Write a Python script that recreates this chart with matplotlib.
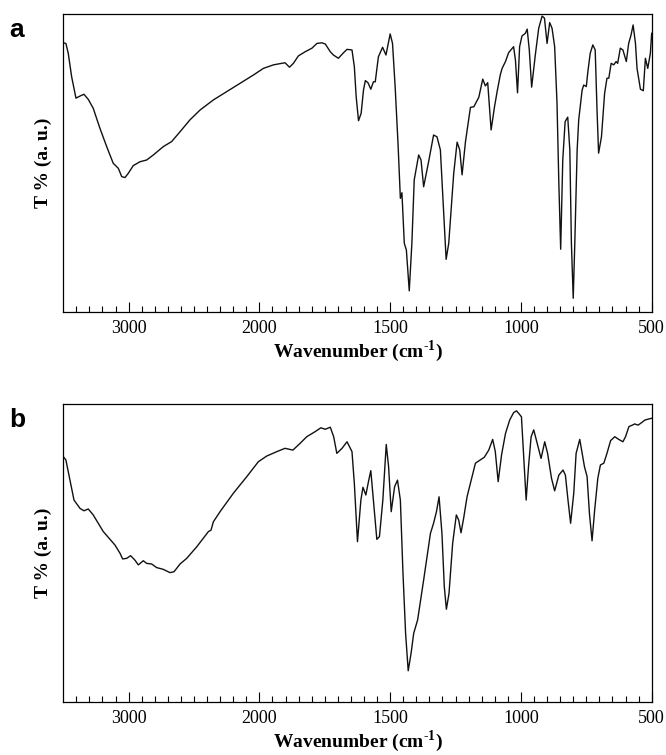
import numpy as np
import matplotlib
matplotlib.use('Agg')
import matplotlib.pyplot as plt

plt.rcParams['font.family'] = ['Liberation Serif', 'DejaVu Serif']
plt.rcParams['mathtext.fontset'] = 'custom'
plt.rcParams['mathtext.rm'] = 'Liberation Serif'
plt.rcParams['mathtext.bf'] = 'Liberation Serif:bold'

# spectrum a: wavenumber (cm-1) and transmittance (a.u., 0-100)
wn_a = [3500, 3480, 3462, 3436, 3403, 3372, 3342, 3309, 3271, 3220, 3168, 3118, 3079, 3053,
        3028, 3003, 2965, 2914, 2862, 2811, 2735, 2671, 2607, 2531, 2454, 2352, 2250, 2148,
        2045, 1985, 1946, 1914, 1902, 1885, 1870, 1851, 1825, 1799, 1780, 1761, 1748, 1729,
        1717, 1698, 1678, 1665, 1646, 1637, 1630, 1621, 1611, 1602, 1595, 1585, 1574, 1564,
        1557, 1545, 1529, 1516, 1500, 1491, 1481, 1470, 1461, 1455, 1446, 1438, 1427, 1417,
        1408, 1391, 1382, 1372, 1353, 1334, 1321, 1308, 1296, 1286, 1276, 1257, 1244, 1234,
        1225, 1212, 1193, 1180, 1161, 1146, 1136, 1127, 1114, 1101, 1091, 1079, 1072, 1059,
        1047, 1028, 1021, 1013, 1005, 996, 983, 976, 968, 959, 945, 932, 919, 910, 900, 890,
        881, 871, 862, 855, 848, 840, 831, 821, 813, 807, 800, 794, 785, 779, 766, 760, 750,
        744, 735, 725, 716, 709, 703, 692, 680, 671, 664, 655, 645, 636, 630, 620, 610, 597,
        588, 579, 571, 562, 556, 543, 532, 524, 515, 505, 500]
t_a = [90.4, 90.2, 86.9, 79.0, 71.8, 72.5, 73.1, 71.4, 68.4, 61.7, 55.5, 49.9, 48.2, 45.4,
       45.1, 46.5, 49.1, 50.4, 51.0, 52.7, 55.5, 57.2, 60.5, 64.5, 67.8, 71.2, 74.0, 76.8,
       79.6, 81.8, 83.0, 83.5, 83.7, 82.2, 83.5, 86.0, 87.4, 88.6, 90.2, 90.4, 90.0, 87.4,
       86.3, 85.2, 87.1, 88.2, 88.0, 82.4, 72.3, 64.2, 66.7, 74.5, 77.7, 77.0, 74.8, 77.3,
       77.3, 85.7, 88.9, 86.3, 93.4, 90.2, 75.7, 56.6, 38.1, 40.0, 23.0, 20.7, 7.0, 23.0,
       44.3, 52.7, 51.0, 42.0, 50.4, 59.4, 58.8, 54.4, 34.2, 17.6, 23.0, 46.5, 57.0, 54.4,
       46.0, 57.2, 68.7, 68.9, 72.1, 78.2, 75.9, 77.0, 61.1, 68.9, 74.0, 79.6, 81.8, 84.1,
       87.1, 89.1, 84.6, 73.6, 89.1, 92.7, 93.6, 95.0, 88.0, 75.5, 86.3, 95.3, 99.4, 98.7,
       90.2, 97.2, 95.3, 89.1, 70.1, 43.2, 21.0, 51.0, 63.9, 65.4, 54.4, 23.0, 4.5, 23.0,
       54.4, 64.5, 74.5, 76.2, 75.7, 80.7, 86.9, 89.7, 88.0, 67.8, 53.3, 58.8, 73.4, 78.5,
       78.5, 83.5, 83.0, 84.1, 83.5, 88.6, 88.0, 84.1, 90.2, 93.0, 96.4, 90.2, 81.8, 74.8,
       74.3, 85.2, 81.8, 86.9, 93.6]

# spectrum b
wn_b = [3500, 3480, 3449, 3418, 3372, 3342, 3309, 3271, 3194, 3105, 3066, 3046, 3015, 2985,
        2952, 2926, 2888, 2862, 2824, 2786, 2735, 2684, 2653, 2607, 2556, 2479, 2390, 2370,
        2352, 2301, 2199, 2096, 2008, 1972, 1933, 1902, 1872, 1844, 1819, 1787, 1765, 1748,
        1729, 1716, 1704, 1684, 1665, 1646, 1637, 1625, 1612, 1604, 1593, 1583, 1574, 1564,
        1551, 1541, 1528, 1515, 1506, 1496, 1483, 1472, 1461, 1451, 1441, 1431, 1420, 1410,
        1395, 1372, 1346, 1334, 1323, 1313, 1302, 1293, 1285, 1275, 1261, 1247, 1238, 1229,
        1219, 1206, 1187, 1174, 1162, 1140, 1123, 1108, 1098, 1087, 1074, 1059, 1043, 1028,
        1017, 1009, 998, 989, 980, 971, 961, 951, 938, 923, 909, 898, 883, 871, 855, 839,
        830, 820, 810, 798, 789, 775, 765, 757, 747, 738, 728, 718, 706, 696, 683, 671, 657,
        641, 626, 610, 600, 587, 574, 565, 552, 539, 526, 514, 500]
t_b = [82.4, 81.3, 74.5, 67.8, 65.0, 64.2, 64.8, 62.8, 57.2, 52.7, 49.9, 48.0, 48.2, 49.1,
       47.6, 46.0, 47.4, 46.5, 46.3, 45.1, 44.5, 43.4, 43.7, 46.3, 48.2, 52.1, 57.2, 57.7,
       60.5, 63.9, 70.1, 75.7, 80.7, 82.6, 84.1, 85.2, 84.6, 86.9, 89.1, 90.8, 92.1, 91.6,
       92.3, 89.1, 83.5, 85.2, 87.4, 84.1, 73.4, 53.8, 67.8, 72.1, 69.5, 74.0, 77.7, 67.8,
       54.6, 55.5, 67.8, 86.5, 79.0, 63.9, 72.3, 74.5, 67.8, 43.2, 23.0, 10.4, 16.3, 23.0,
       27.5, 40.9, 56.6, 60.0, 63.9, 68.9, 56.6, 38.7, 31.1, 36.4, 53.3, 62.8, 61.1, 56.8,
       61.7, 68.9, 75.7, 80.2, 80.9, 82.2, 84.6, 88.2, 84.1, 74.0, 83.0, 90.2, 94.7, 97.2,
       97.8, 97.0, 95.8, 81.8, 67.8, 79.0, 89.1, 91.4, 86.9, 81.8, 87.4, 83.5, 75.1, 70.9,
       76.2, 77.9, 76.2, 67.8, 60.0, 70.1, 83.5, 88.2, 83.0, 79.0, 75.7, 63.3, 54.1, 64.5,
       75.1, 79.6, 80.2, 83.5, 87.8, 89.1, 88.2, 87.4, 89.1, 92.5, 93.0, 93.4, 93.0, 93.8,
       94.7, 95.0, 95.3]

major_ticks = [3000, 2000, 1500, 1000, 500]
minor_ticks = [w for w in range(3400, 2000, -100) if w != 3000] + \
              [w for w in range(1950, 500, -50) if w not in (1500, 1000)]


# x-axis is compressed 2x above 2000 cm-1, as on the instrument printout
def fwd(w):
    w = np.asarray(w, dtype=float)
    return np.where(w > 2000, 2000 + (w - 2000) / 2.0, w)


def inv(p):
    p = np.asarray(p, dtype=float)
    return np.where(p > 2000, 2000 + (p - 2000) * 2.0, p)


fig = plt.figure(figsize=(6.66, 7.55), dpi=100)
ax_a = fig.add_axes([0.0950, 0.5872, 0.8835, 0.3939])
ax_b = fig.add_axes([0.0950, 0.0706, 0.8835, 0.3939])

for ax, wn, t, letter in [(ax_a, wn_a, t_a, 'a'), (ax_b, wn_b, t_b, 'b')]:
    ax.set_xscale('function', functions=(fwd, inv))
    ax.plot(wn, t, color='#111111', lw=1.0)
    ax.set_xlim(3500, 500)
    ax.set_ylim(0, 100)
    ax.set_xticks(major_ticks)
    ax.set_xticklabels([str(w) for w in major_ticks])
    ax.set_xticks(minor_ticks, minor=True)
    ax.set_yticks([])
    ax.tick_params(axis='x', which='major', direction='in', length=7, width=0.8,
                   labelsize=13, pad=6)
    ax.tick_params(axis='x', which='minor', direction='in', length=4, width=0.8)
    for s in ax.spines.values():
        s.set_linewidth(0.9)
    ax.set_xlabel('Wavenumber (cm$^{\\mathbf{\u2010}\\mathbf{1}}$)', fontsize=14,
                  fontweight='bold', labelpad=1)
    ax.set_ylabel('T % (a. u.)', fontsize=14, fontweight='bold', labelpad=8)
    pos = ax.get_position()
    fig.text(0.014, pos.y1 - 0.021, letter, fontsize=19, fontweight='bold',
             family='Liberation Sans', va='center', ha='left')

fig.savefig('out.png', dpi=100)
